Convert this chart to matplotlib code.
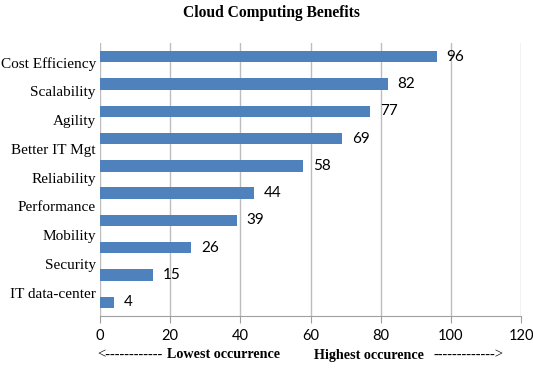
import numpy as np
import matplotlib
matplotlib.use("Agg")
import matplotlib.pyplot as plt

title = "Cloud Computing Benefits"
labels = ["Cost Efficiency", "Scalability", "Agility", "Better IT Mgt", "Reliability",
          "Performance", "Mobility", "Security", "IT data-center"]
values = [96, 82, 77, 69, 58, 44, 39, 26, 15, 4]
xticks = [0, 20, 40, 60, 80, 100, 120]

W, H = 533, 371
fig = plt.figure(figsize=(W / 100, H / 100), dpi=100)
ax = fig.add_axes([100 / W, 1 - 316 / H, 421 / W, 273 / H])

pos = np.arange(len(values))
ax.barh(pos, values, height=0.42, color="#4F81BD", zorder=3)
ax.set_ylim(len(values) - 0.5, -0.5)
ax.set_xlim(0, 120)
ax.set_xticks(xticks)
ax.set_xticklabels([str(t) for t in xticks], fontsize=10.5, family="Lato")
ax.tick_params(axis="x", direction="out", length=5, color="#a0a0a0", pad=4)
ax.grid(axis="x", color="#bdbdbd", lw=1, zorder=0)
for s in ["top", "right", "left"]:
    ax.spines[s].set_visible(False)
ax.spines["bottom"].set_color("#a0a0a0")

ax.set_yticks(np.linspace(0.2, 8.66, len(labels)))
ax.set_yticklabels(labels, fontsize=11, family="Liberation Serif")
ax.tick_params(axis="y", length=0, pad=3)

for p, v in zip(pos, values):
    ax.annotate(str(v), (v, p), xytext=(7, 0), textcoords="offset points",
                va="center", ha="left", fontsize=11, family="Lato")

fig.text(271 / W, 1 - 13 / H, title, ha="center", va="center", fontsize=11.2,
         fontweight="bold", family="Liberation Serif")

yb = 1 - 355 / H
fig.text(97 / W, yb, "<------------", ha="left", va="center", fontsize=10.5, family="Liberation Serif")
fig.text(167 / W, yb, "Lowest occurrence", ha="left", va="center", fontsize=10.2,
         fontweight="bold", family="Liberation Serif")
fig.text(314 / W, yb, "Highest occurence", ha="left", va="center", fontsize=10.2,
         fontweight="bold", family="Liberation Serif")
fig.text(503 / W, yb, "------------->", ha="right", va="center", fontsize=10.5, family="Liberation Serif")

fig.savefig("out.png", dpi=100)
